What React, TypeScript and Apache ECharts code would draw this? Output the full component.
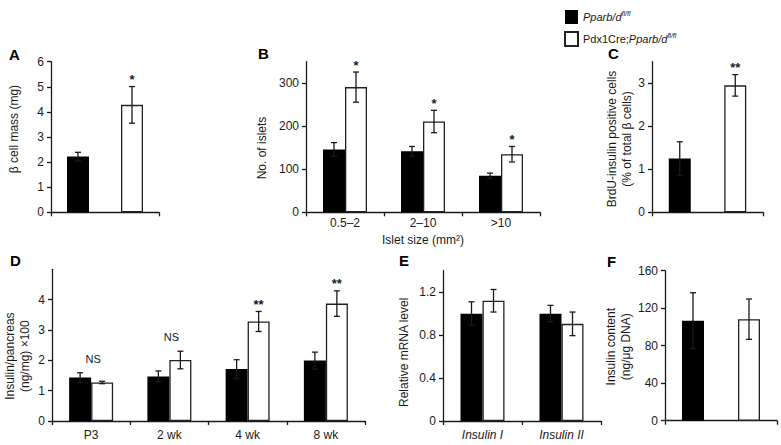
import React, { useEffect, useRef } from 'react';
import * as echarts from 'echarts';

// ---------- Legend ----------
const seriesNames = ['Pparb/d fl/fl', 'Pdx1Cre;Pparb/d fl/fl'];

// ---------- Panel A: beta cell mass (mg) ----------
const aCategories = ['control', 'knockout'];
const aMeans = [2.22, 4.28];
const aErrors = [0.17, 0.73];
const aMarks = ['', '*'];
const aTicks = [0, 1, 2, 3, 4, 5, 6];

// ---------- Panel B: No. of islets by size ----------
const bCategories = ['0.5–2', '2–10', '>10'];
const bControl = [146, 142, 85];
const bControlErr = [16, 11, 6];
const bKO = [291, 211, 135];
const bKOErr = [35, 26, 18];
const bMarks = ['*', '*', '*'];
const bTicks = [0, 100, 200, 300];

// ---------- Panel C: BrdU-insulin positive cells ----------
const cCategories = ['control', 'knockout'];
const cMeans = [1.25, 2.95];
const cErrors = [0.39, 0.25];
const cMarks = ['', '**'];
const cTicks = [0, 1, 2, 3];

// ---------- Panel D: Insulin/pancreas ----------
const dCategories = ['P3', '2 wk', '4 wk', '8 wk'];
const dControl = [1.43, 1.47, 1.71, 1.99];
const dControlErr = [0.16, 0.18, 0.31, 0.28];
const dKO = [1.27, 2.01, 3.28, 3.87];
const dKOErr = [0.04, 0.29, 0.33, 0.42];
const dMarks = ['NS', 'NS', '**', '**'];
const dTicks = [0, 1, 2, 3, 4];

// ---------- Panel E: Relative mRNA level ----------
const eCategories = ['Insulin I', 'Insulin II'];
const eControl = [1.0, 1.0];
const eControlErr = [0.11, 0.077];
const eKO = [1.12, 0.905];
const eKOErr = [0.105, 0.11];
const eTicks = [0, 0.4, 0.8, 1.2];

// ---------- Panel F: Insulin content ----------
const fCategories = ['control', 'knockout'];
const fMeans = [106.7, 108.3];
const fErrors = [29.8, 21.5];
const fTicks = [0, 40, 80, 120, 160];

const FONT = 'Liberation Sans, Arial, Helvetica, sans-serif';
const INK = '#1a1a1a';
const BLACK_STYLE = { color: '#000000' };
const WHITE_STYLE = { color: '#ffffff', borderColor: '#222222', borderWidth: 1.3 };

type Pt = { x: number; m: number; e: number; off: number };
type Mk = { x: number; top: number; off: number; text: string };

function errSeries(idx: number, pts: Pt[]) {
  return {
    type: 'custom',
    xAxisIndex: idx,
    yAxisIndex: idx,
    z: 5,
    silent: true,
    data: pts.map((p) => [p.x, p.m, p.e, p.off]),
    encode: { x: 0, y: 1 },
    renderItem: (params: any, api: any) => {
      const p = pts[params.dataIndex];
      const top = api.coord([p.x, p.m + p.e]);
      const bot = api.coord([p.x, p.m - p.e]);
      const cx = top[0] + p.off;
      const ls = { stroke: INK, lineWidth: 1.3 };
      return {
        type: 'group',
        children: [
          { type: 'line', shape: { x1: cx, y1: top[1], x2: cx, y2: bot[1] }, style: ls },
          { type: 'line', shape: { x1: cx - 3, y1: top[1], x2: cx + 3, y2: top[1] }, style: ls },
          { type: 'line', shape: { x1: cx - 3, y1: bot[1], x2: cx + 3, y2: bot[1] }, style: ls },
        ],
      };
    },
  };
}

function markSeries(idx: number, marks: Mk[]) {
  const list = marks.filter((m) => m.text);
  return {
    type: 'custom',
    xAxisIndex: idx,
    yAxisIndex: idx,
    z: 6,
    silent: true,
    data: list.map((m) => [m.x, m.top]),
    encode: { x: 0, y: 1 },
    renderItem: (params: any, api: any) => {
      const m = list[params.dataIndex];
      const pt = api.coord([m.x, m.top]);
      const isNS = m.text === 'NS';
      return {
        type: 'text',
        x: pt[0] + m.off,
        y: pt[1] - (isNS ? 14 : 7),
        style: {
          text: m.text,
          fill: INK,
          fontFamily: FONT,
          fontSize: isNS ? 11 : 13,
          fontWeight: isNS ? 'normal' : 'bold',
          align: 'center',
          verticalAlign: 'middle',
        },
      };
    },
  };
}

function xAxisDef(idx: number, data: string[], showLabels: boolean, margin: number, italic = false, name?: string) {
  return {
    type: 'category',
    gridIndex: idx,
    data,
    boundaryGap: true,
    axisLine: { show: true, lineStyle: { color: INK, width: 1.3 } },
    axisTick: { show: true, length: 4, alignWithLabel: false, lineStyle: { color: INK, width: 1.3 } },
    axisLabel: {
      show: showLabels,
      margin,
      color: INK,
      fontFamily: FONT,
      fontSize: 12,
      fontStyle: italic ? 'italic' : 'normal',
    },
    splitLine: { show: false },
    name: name || '',
    nameLocation: 'middle',
    nameGap: 22,
    nameTextStyle: { color: INK, fontFamily: FONT, fontSize: 12 },
  };
}

function yAxisDef(
  idx: number,
  max: number,
  ticks: number[],
  name: string,
  nameGap: number,
  padding: number[],
  fmt?: (v: number) => string
) {
  return {
    type: 'value',
    gridIndex: idx,
    min: 0,
    max,
    axisLine: { show: true, lineStyle: { color: INK, width: 1.3 } },
    axisTick: { show: true, length: 4, customValues: ticks, lineStyle: { color: INK, width: 1.3 } },
    axisLabel: {
      customValues: ticks,
      margin: 7,
      color: INK,
      fontFamily: FONT,
      fontSize: 12,
      formatter: fmt || ((v: number) => String(v)),
    },
    splitLine: { show: false },
    name,
    nameLocation: 'middle',
    nameGap,
    nameTextStyle: { color: INK, fontFamily: FONT, fontSize: 12, lineHeight: 15, padding },
  };
}

function pairedBars(idx: number, control: number[], ko: number[]) {
  return [
    { type: 'bar', name: seriesNames[0], xAxisIndex: idx, yAxisIndex: idx, data: control, barWidth: 22, barGap: '0%', itemStyle: BLACK_STYLE, silent: true },
    { type: 'bar', name: seriesNames[1], xAxisIndex: idx, yAxisIndex: idx, data: ko, barWidth: 22, barGap: '0%', itemStyle: WHITE_STYLE, silent: true },
  ];
}

function singleBars(idx: number, means: number[]) {
  return [
    { type: 'bar', name: seriesNames[0], xAxisIndex: idx, yAxisIndex: idx, data: [means[0], '-'], barWidth: 22, barGap: '-100%', itemStyle: BLACK_STYLE, silent: true },
    { type: 'bar', name: seriesNames[1], xAxisIndex: idx, yAxisIndex: idx, data: ['-', means[1]], barWidth: 22, barGap: '-100%', itemStyle: WHITE_STYLE, silent: true },
  ];
}

function singlePts(means: number[], errs: number[]): Pt[] {
  return means.map((m, i) => ({ x: i, m, e: errs[i], off: 0 }));
}

function singleMarks(means: number[], errs: number[], marks: string[]): Mk[] {
  return means.map((m, i) => ({ x: i, top: m + errs[i], off: 0, text: marks[i] }));
}

function pairedPts(c: number[], ce: number[], k: number[], ke: number[]): Pt[] {
  const out: Pt[] = [];
  c.forEach((m, i) => out.push({ x: i, m, e: ce[i], off: -11 }));
  k.forEach((m, i) => out.push({ x: i, m, e: ke[i], off: 11 }));
  return out;
}

// "NS" is centred over the pair; asterisks sit over the knockout bar
function pairedMarks(c: number[], ce: number[], k: number[], ke: number[], marks: string[]): Mk[] {
  return marks.map((t, i) =>
    t === 'NS'
      ? { x: i, top: Math.max(c[i] + ce[i], k[i] + ke[i]), off: 2, text: t }
      : { x: i, top: k[i] + ke[i], off: 11, text: t }
  );
}

function panelLetter(text: string, x: number, y: number) {
  return {
    type: 'text',
    left: x,
    top: y,
    style: { text, fill: '#000', font: `bold 15px ${FONT}` },
  };
}

export default function App() {
  const ref = useRef<HTMLDivElement>(null);

  useEffect(() => {
    document.body.style.margin = '0';
    if (!ref.current) return;
    const chart = echarts.init(ref.current, undefined, { renderer: 'svg' });

    const option: any = {
      animation: false,
      backgroundColor: '#ffffff',
      textStyle: { fontFamily: FONT },
      legend: {
        orient: 'vertical',
        left: 559,
        top: 5,
        itemWidth: 13,
        itemHeight: 14,
        itemGap: 7,
        selectedMode: false,
        data: [
          { name: seriesNames[0], icon: 'rect' },
          { name: seriesNames[1], icon: 'rect' },
        ],
        formatter: (name: string) =>
          name === seriesNames[0] ? '{i|Pparb/d}{s|fl/fl}' : '{n|Pdx1Cre;}{i|Pparb/d}{s|fl/fl}',
        textStyle: {
          color: INK,
          fontFamily: FONT,
          fontSize: 11,
          rich: {
            i: { fontStyle: 'italic', fontSize: 11, fontFamily: FONT, color: INK },
            n: { fontSize: 11, fontFamily: FONT, color: INK },
            s: { fontStyle: 'italic', fontSize: 7, fontFamily: FONT, color: INK, verticalAlign: 'top', lineHeight: 14 },
          },
        },
      },
      grid: [
        { left: 51, top: 61.7, width: 108, height: 150.6 },
        { left: 306, top: 61.7, width: 234, height: 150.6 },
        { left: 652, top: 61.7, width: 111, height: 150.6 },
        { left: 52, top: 269.3, width: 313, height: 151.7 },
        { left: 443, top: 270.7, width: 158, height: 150.3 },
        { left: 665, top: 270.7, width: 112, height: 150 },
      ],
      xAxis: [
        xAxisDef(0, aCategories, false, 6),
        xAxisDef(1, bCategories, true, 5, false, 'Islet size (mm²)'),
        xAxisDef(2, cCategories, false, 6),
        xAxisDef(3, dCategories, true, 8),
        xAxisDef(4, eCategories, true, 8, true),
        xAxisDef(5, fCategories, false, 6),
      ],
      yAxis: [
        yAxisDef(0, 6, aTicks, 'β cell mass (mg)', 30, [0, 0, 0, 16]),
        yAxisDef(1, 350, bTicks, 'No. of islets', 37, [0, 22, 0, 0]),
        yAxisDef(2, 3.5, cTicks, 'BrdU-insulin positive cells\n(% of total β cells)', 18, [0, 4, 0, 0]),
        yAxisDef(3, 5, dTicks, 'Insulin/pancreas\n(ng/mg) ×100', 20, [0, 22, 0, 0]),
        yAxisDef(4, 1.4, eTicks, 'Relative mRNA level', 32, [0, 13, 0, 0], (v: number) => (v === 0 ? '0' : v.toFixed(1))),
        yAxisDef(5, 160, fTicks, 'Insulin content\n(ng/μg DNA)', 32, [0, 2, 0, 0]),
      ],
      graphic: [
        panelLetter('A', 9, 47),
        panelLetter('B', 258, 46),
        panelLetter('C', 608, 46),
        panelLetter('D', 10, 253),
        panelLetter('E', 399, 253),
        panelLetter('F', 607, 254),
      ],
      series: [
        ...singleBars(0, aMeans),
        ...pairedBars(1, bControl, bKO),
        ...singleBars(2, cMeans),
        ...pairedBars(3, dControl, dKO),
        ...pairedBars(4, eControl, eKO),
        ...singleBars(5, fMeans),
        errSeries(0, singlePts(aMeans, aErrors)),
        errSeries(1, pairedPts(bControl, bControlErr, bKO, bKOErr)),
        errSeries(2, singlePts(cMeans, cErrors)),
        errSeries(3, pairedPts(dControl, dControlErr, dKO, dKOErr)),
        errSeries(4, pairedPts(eControl, eControlErr, eKO, eKOErr)),
        errSeries(5, singlePts(fMeans, fErrors)),
        markSeries(0, singleMarks(aMeans, aErrors, aMarks)),
        markSeries(1, pairedMarks(bControl, bControlErr, bKO, bKOErr, bMarks)),
        markSeries(2, singleMarks(cMeans, cErrors, cMarks)),
        markSeries(3, pairedMarks(dControl, dControlErr, dKO, dKOErr, dMarks)),
      ],
    };

    chart.setOption(option);
    return () => {
      chart.dispose();
    };
  }, []);

  return (
    <div
      ref={ref}
      style={{ position: 'absolute', left: 0, top: 0, width: 781, height: 445, background: '#fff' }}
    />
  );
}
